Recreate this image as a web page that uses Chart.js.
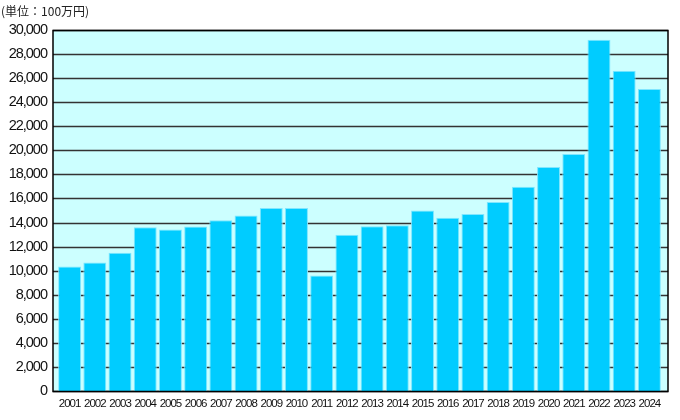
<!DOCTYPE html>
<html>
<head>
<meta charset="utf-8">
<script src="https://cdn.jsdelivr.net/npm/chart.js@4"></script>
<style>
html,body{margin:0;padding:0;background:#fff;}
#wrap{position:relative;width:680px;height:420px;}
#unit{position:absolute;left:1px;top:2px;font:12px "Noto Sans CJK JP",sans-serif;color:#222;white-space:nowrap;}
</style>
</head>
<body>
<div id="wrap">
<div id="unit">(単位：100万円)</div>
<canvas id="c" width="680" height="420"></canvas>
</div>
<script>
const years = ['2001','2002','2003','2004','2005','2006','2007','2008','2009','2010','2011','2012','2013','2014','2015','2016','2017','2018','2019','2020','2021','2022','2023','2024'];
const amounts = [10340,10670,11480,13600,13420,13670,14200,14580,15200,15200,9590,12980,13700,13780,15000,14390,14700,15700,16970,18610,19690,29200,26620,25100];
const yMin = 0, yMax = 30000, yStep = 2000;

const FONT = '"Liberation Sans",Arial,sans-serif';

const framePlugin = {
  id: 'frame',
  beforeDraw(chart) {
    chart.ctx.letterSpacing = '-1px';
  },
  afterDraw(chart) {
    chart.ctx.letterSpacing = '0px';
  },
  beforeDatasetsDraw(chart) {
    const {ctx, chartArea: a, scales: {y}} = chart;
    const L = a.left - 4, R = a.right + 6;
    ctx.save();
    ctx.fillStyle = '#CCFFFF';
    ctx.fillRect(L, a.top, R - L, a.bottom - a.top);
    ctx.strokeStyle = '#333';
    ctx.lineWidth = 1.3;
    y.ticks.forEach(t => {
      const py = Math.round(y.getPixelForValue(t.value)) + 0.5;
      ctx.beginPath(); ctx.moveTo(L, py); ctx.lineTo(R, py); ctx.stroke();
    });
    ctx.restore();
  },
  afterDatasetsDraw(chart) {
    const {ctx, chartArea: a, scales: {y}} = chart;
    const L = a.left - 4, R = a.right + 6;
    const top = Math.round(y.getPixelForValue(yMax)) + 0.5;
    const bot = Math.round(y.getPixelForValue(yMin)) + 0.5;
    ctx.save();
    ctx.strokeStyle = '#000';
    ctx.lineWidth = 1.5;
    ctx.beginPath();
    ctx.moveTo(L, top); ctx.lineTo(R, top); ctx.lineTo(R, bot); ctx.lineTo(L, bot); ctx.closePath();
    ctx.stroke();
    ctx.restore();
  }
};

new Chart(document.getElementById('c'), {
  type: 'bar',
  data: {
    labels: years,
    datasets: [{
      data: amounts,
      backgroundColor: '#00CCFF',
      borderColor: '#7FE6FF',
      borderWidth: 1,
      categoryPercentage: 1.0,
      barPercentage: 0.91
    }]
  },
  options: {
    responsive: false,
    animation: false,
    devicePixelRatio: 1,
    layout: {padding: {left: 0, right: 18, top: 30, bottom: 0}},
    plugins: {legend: {display: false}, tooltip: {enabled: false}},
    scales: {
      x: {
        grid: {display: false, drawTicks: false},
        border: {display: false},
        ticks: {color: '#111', font: {family: FONT, size: 11.5}, padding: 6, maxRotation: 0, autoSkip: false},
        afterFit(s) { s.height = 29; }
      },
      y: {
        min: yMin, max: yMax,
        grid: {display: false, drawTicks: false},
        border: {display: false},
        ticks: {stepSize: yStep, color: '#111', font: {family: FONT, size: 14.5}, padding: 10,
          callback: v => v.toLocaleString('en-US')},
        afterFit(s) { s.width = 57; }
      }
    }
  },
  plugins: [framePlugin]
});
</script>
</body>
</html>
